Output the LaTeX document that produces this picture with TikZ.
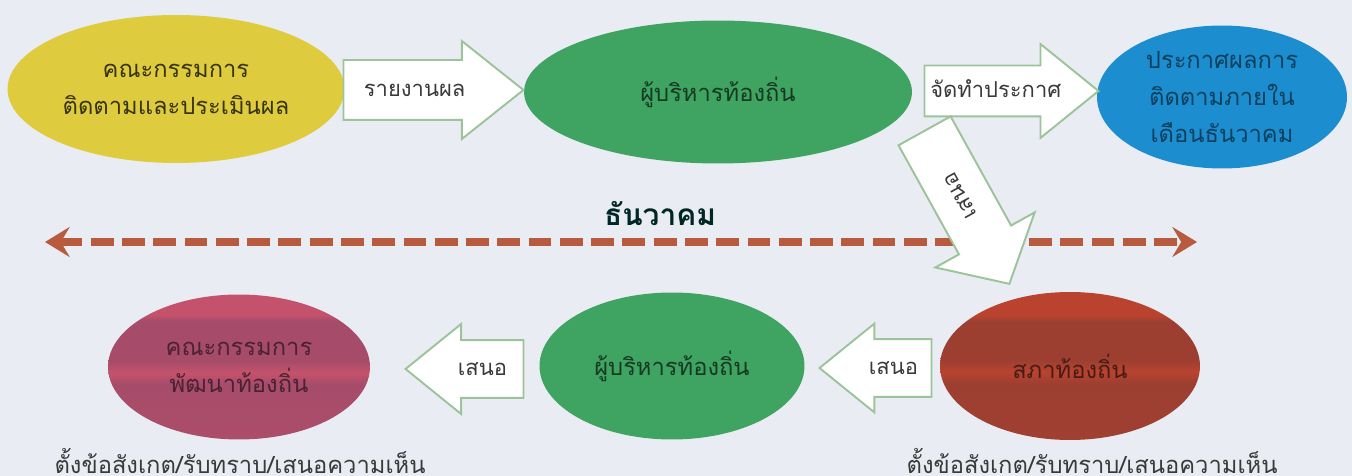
\documentclass[tikz,border=0pt]{standalone}
\usepackage{fontspec}
\usetikzlibrary{shapes.geometric,shapes.arrows,arrows.meta}
\newfontfamily\thaifont[Script=Thai]{Loma}

\definecolor{bgcol}{HTML}{E9EDF3}
\definecolor{ylw}{HTML}{DFCC3E}
\definecolor{grn}{HTML}{3FA462}
\definecolor{blu}{HTML}{1C8ED0}
\definecolor{arrowgreen}{HTML}{9CC39A}
\definecolor{dashbrown}{HTML}{B85A3E}
\definecolor{pkR}{HTML}{C5526C}
\definecolor{pkM}{HTML}{A64C6A}
\definecolor{brR}{HTML}{B9432F}
\definecolor{brM}{HTML}{9C3F31}
\definecolor{txtgray}{HTML}{3A3A3A}

\pgfdeclareverticalshading{pinkband}{100bp}{color(0bp)=(pkM!80!pkR); color(25bp)=(pkM!80!pkR);
  color(44bp)=(pkM); color(48bp)=(pkR); color(52bp)=(pkM); color(66bp)=(pkM);
  color(68bp)=(pkR); color(75bp)=(pkR); color(100bp)=(pkR)}
\pgfdeclareverticalshading{brownband}{100bp}{color(0bp)=(brM!85!brR); color(25bp)=(brM!85!brR);
  color(44bp)=(brM); color(48bp)=(brR); color(52bp)=(brM); color(65bp)=(brM);
  color(67bp)=(brR); color(75bp)=(brR); color(100bp)=(brR)}

\begin{document}
\begin{tikzpicture}[x=0.02cm, y=0.02cm,
    main/.style = {ellipse, inner sep=0pt, align=center, font=\thaifont\fontsize{13.5}{21}\selectfont},
    block/.style = {single arrow, draw=arrowgreen, line width=1.1pt, fill=white, inner xsep=2pt,
      inner ysep=0pt, anchor=tip, text=txtgray, font=\thaifont\fontsize{12.5}{15}\selectfont},
    timeline/.style = {draw=dashbrown, line width=4pt, dash pattern=on 13pt off 4.8pt},
    note/.style = {text=txtgray, font=\thaifont\fontsize{13.5}{16}\selectfont}]
    \useasboundingbox (0,0) rectangle (1352,476);
    \fill[bgcol] (0,0) rectangle (1352,476);

    % Time line
    \coordinate (dl) at (45,234);
    \coordinate (dr) at (1197,234);
    \draw[timeline, {Stealth[length=14pt, width=17pt, inset=5pt]}-{Stealth[length=14pt, width=17pt, inset=5pt]}] (dl) -- (dr);
    \node[text=black!70!teal, font=\thaifont\bfseries\fontsize{17}{20}\selectfont] (dec) at (660,262) {ธันวาคม};

    % Nodes
    \node[main, fill=ylw, text=black!75!ylw, minimum width=6.74cm, minimum height=2.96cm] (mon) at (176,387) {คณะกรรมการ\\ติดตามและประเมินผล};
    \node[main, fill=grn, text=black!65!grn, minimum width=7.76cm, minimum height=2.86cm] (exec) at (718,384) {ผู้บริหารท้องถิ่น};
    \node[main, fill=blu, text=black!55!blu, minimum width=5cm, minimum height=2.86cm] (pub) at (1222,379) {ประกาศผลการ\\ติดตามภายใน\\เดือนธันวาคม};
    \node[main, shading=pinkband, text=black!55!pkM, minimum width=5.24cm, minimum height=2.9cm] (dev) at (239,109) {คณะกรรมการ\\พัฒนาท้องถิ่น};
    \node[main, fill=grn, text=black!65!grn, minimum width=5.3cm, minimum height=2.94cm] (exec2) at (672,110) {ผู้บริหารท้องถิ่น};
    \node[main, shading=brownband, text=black!55!brM, minimum width=5.2cm, minimum height=2.96cm] (coun) at (1070,110) {สภาท้องถิ่น};

    % Block arrows
    \node[block, minimum height=3.6cm, text height=.703cm, text depth=.457cm,
      single arrow head extend=.38cm, single arrow tip angle=77] (rept) at (525,386) {รายงานผล};
    \node[block, minimum height=3.48cm, text height=.613cm, text depth=.367cm,
      single arrow head extend=.43cm, single arrow tip angle=78] (annc) at (1100,385) {จัดทำประกาศ};
    \node[block, rotate=119, shape border rotate=180, minimum height=3.5cm, text height=.70cm, text depth=.453cm,
      single arrow head extend=.54cm, single arrow tip angle=97] (send) at (1010,191) {เสนอ};
    \node[block, shape border rotate=180, minimum height=2.36cm, text height=.683cm, text depth=.437cm,
      single arrow head extend=.32cm, single arrow tip angle=78] (prop1) at (404,107) {เสนอ};
    \node[block, shape border rotate=180, minimum height=2.24cm, text height=.683cm, text depth=.437cm,
      single arrow head extend=.31cm, single arrow tip angle=78] (prop2) at (818,108) {เสนอ};

    % Notes
    \node[note] (devnote) at (240,15) {ตั้งข้อสังเกต/รับทราบ/เสนอความเห็น};
    \node[note] (counnote) at (1092,15) {ตั้งข้อสังเกต/รับทราบ/เสนอความเห็น};
\end{tikzpicture}
\end{document}
